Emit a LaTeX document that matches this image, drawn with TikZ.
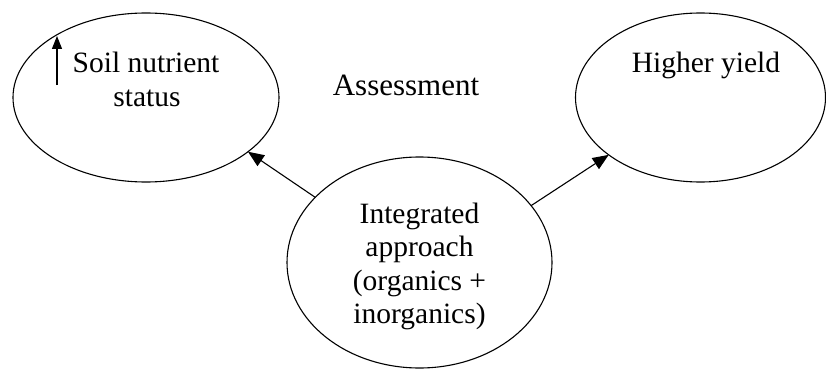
\documentclass[tikz,border=0pt]{standalone}
\usepackage{fontspec}
\setmainfont{Liberation Serif}
\usetikzlibrary{shapes.geometric,arrows.meta}
\begin{document}
\begin{tikzpicture}[x=1pt,y=-1pt,
  bubble/.style={draw,ellipse,line width=1.1pt,inner sep=0pt,outer sep=0pt},
  label text/.style={font=\fontsize{29.5}{33.5}\selectfont,inner sep=0pt,anchor=base},
  link/.style={line width=1.1pt,-{Triangle[length=16pt,width=13pt]}},
  small link/.style={line width=1.1pt,-{Triangle[length=13pt,width=10pt]}}]
  \useasboundingbox (0,0) rectangle (826,369);
  % outcome and input ellipses
  \node[bubble,minimum width=266pt,minimum height=169pt] (soil) at (146,97.5) {};
  \node[bubble,minimum width=250pt,minimum height=169pt] (yield) at (700.5,97.5) {};
  \node[bubble,minimum width=265pt,minimum height=211pt] (ia) at (419.5,262.5) {};
  % texts, one line per node
  \node[label text] (soil1) at (146,72) {Soil nutrient};
  \node[label text] (soil2) at (147,106) {status};
  \node[label text] (yieldtxt) at (706,72) {Higher yield};
  \node[label text,font=\fontsize{31}{34}\selectfont] (assess) at (406,95) {Assessment};
  \node[label text] (ia1) at (419.5,223) {Integrated};
  \node[label text] (ia2) at (419.5,256.5) {approach};
  \node[label text] (ia3) at (419.5,290) {(organics +};
  \node[label text] (ia4) at (419.5,323.5) {inorganics)};
  % increase marker beside the soil text
  \coordinate (upfrom) at (57,85);
  \coordinate (upto) at (57,36);
  \draw[small link] (upfrom) -- (upto);
  % connectors
  \draw[link] (ia.148.3) -- (soil.-28.5);
  \draw[link] (ia.27) -- (yield.-148.6);
\end{tikzpicture}
\end{document}
